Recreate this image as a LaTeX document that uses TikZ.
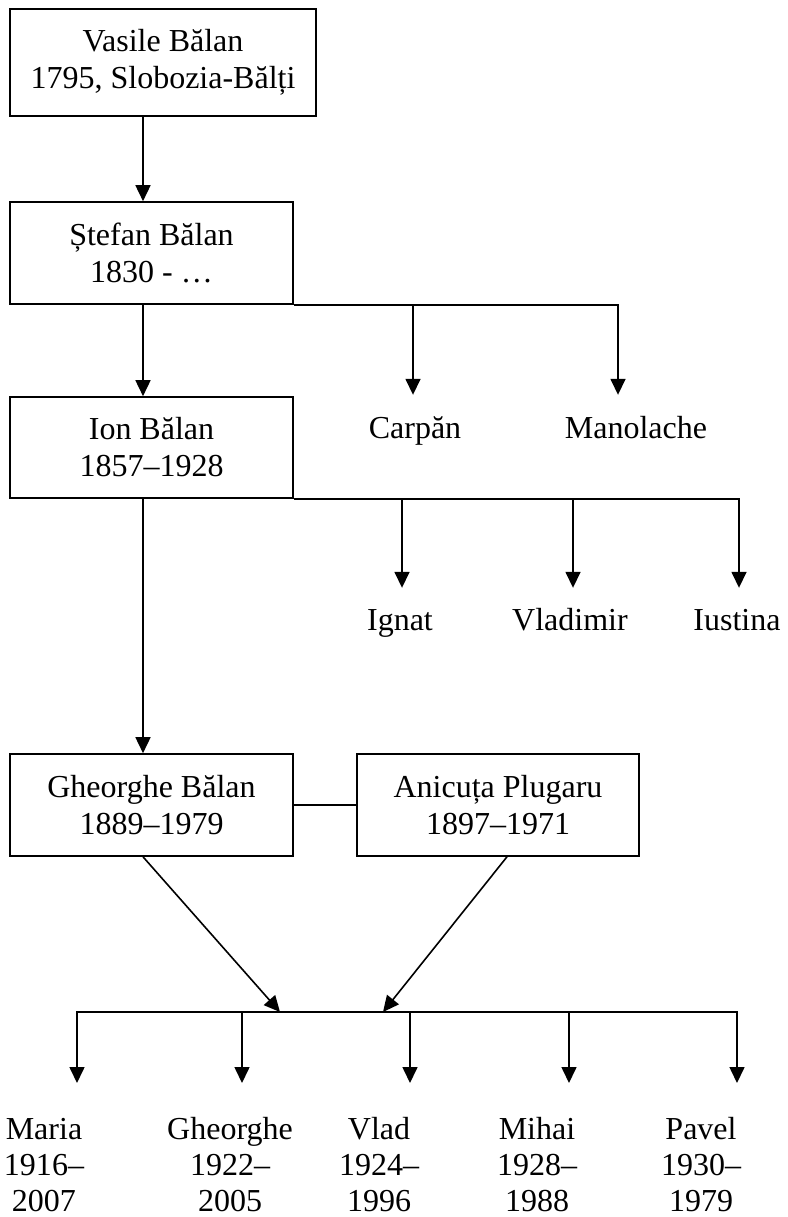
\documentclass[tikz,border=0pt]{standalone}
\usepackage{fontspec}
\setmainfont{Liberation Serif}
\usetikzlibrary{arrows.meta}
\begin{document}
\begin{tikzpicture}[x=1pt,y=-1pt,
  every node/.style={font=\fontsize{32}{37}\selectfont},
  box/.style={draw, line width=1.6pt, align=center, inner sep=0pt},
  lbl/.style={anchor=base, align=center, inner sep=0pt},
  kid/.style={anchor=north, align=center, inner sep=0pt, font=\fontsize{32}{36}\selectfont},
  arr/.style={line width=1.6pt, -{Triangle[length=16pt,width=15pt]}},
  arr2/.style={line width=1.6pt, {Triangle[length=16pt,width=15pt]}-{Triangle[length=16pt,width=15pt]}},
  ln/.style={line width=1.6pt}]
\useasboundingbox (0,0) rectangle (787,1217);
% boxes
\node[box, minimum width=306pt, minimum height=107pt] (vasile) at (163,62.5) {Vasile Bălan\\1795, Slobozia-Bălți};
\node[box, minimum width=283pt, minimum height=102pt] (stefan) at (151.5,253) {Ștefan Bălan\\1830 - …};
\node[box, minimum width=283pt, minimum height=101pt] (ion) at (151.5,447.5) {Ion Bălan\\1857–1928};
\node[box, minimum width=283pt, minimum height=102pt] (gheorghe) at (151.5,805) {Gheorghe Bălan\\1889–1979};
\node[box, minimum width=282pt, minimum height=102pt] (anicuta) at (498,805) {Anicuța Plugaru\\1897–1971};
% labels
\node[lbl, text height=43pt] (carpan) at (415,438) {Carpăn};
\node[lbl, text height=43pt] (manolache) at (636,438) {Manolache};
\node[lbl, text height=42pt] (ignat) at (400,630) {Ignat};
\node[lbl, text height=42pt] (vladimir) at (570,630) {Vladimir};
\node[lbl, text height=42pt] (iustina) at (737,630) {Iustina};
\node[kid] (maria) at (44,1083) {\rule{0pt}{56pt}Maria\\1916–\\2007};
\node[kid] (gh2) at (230,1083) {\rule{0pt}{56pt}Gheorghe\\1922–\\2005};
\node[kid] (vlad) at (379,1083) {\rule{0pt}{56pt}Vlad\\1924–\\1996};
\node[kid] (mihai) at (537,1083) {\rule{0pt}{56pt}Mihai\\1928–\\1988};
\node[kid] (pavel) at (701,1083) {\rule{0pt}{56pt}Pavel\\1930–\\1979};
% helper coordinates
\coordinate (ax) at (143,0);
\coordinate (bar) at (0,1012);
\coordinate (jl) at (280,1012);
\coordinate (jr) at (383,1012);
% connectors
\draw[arr] (vasile.south -| ax) -- (stefan.north -| ax);
\draw[arr] (stefan.south -| ax) -- (ion.north -| ax);
\draw[arr] (ion.south -| ax) -- (gheorghe.north -| ax);
\draw[arr] (stefan.south east) -| ([xshift=-18pt]manolache.north);
\draw[arr] ([xshift=-2pt]carpan.north |- stefan.south east) -- ([xshift=-2pt]carpan.north);
\draw[arr] (ion.south east) -| ([xshift=2pt]iustina.north);
\draw[arr] ([xshift=2pt]ignat.north |- ion.south east) -- ([xshift=2pt]ignat.north);
\draw[arr] ([xshift=3pt]vladimir.north |- ion.south east) -- ([xshift=3pt]vladimir.north);
\draw[ln] (gheorghe.east) -- (anicuta.west);
\draw[arr] (gheorghe.south -| ax) -- (jl);
\draw[arr] ([xshift=9pt]anicuta.south) -- (jr);
\draw[arr2] ([xshift=33pt]maria.north) -- ([xshift=33pt]maria.north |- bar) -- ([xshift=36pt]pavel.north |- bar) -- ([xshift=36pt]pavel.north);
\draw[arr] ([xshift=12pt]gh2.north |- bar) -- ([xshift=12pt]gh2.north);
\draw[arr] ([xshift=31pt]vlad.north |- bar) -- ([xshift=31pt]vlad.north);
\draw[arr] ([xshift=32pt]mihai.north |- bar) -- ([xshift=32pt]mihai.north);
\end{tikzpicture}
\end{document}
